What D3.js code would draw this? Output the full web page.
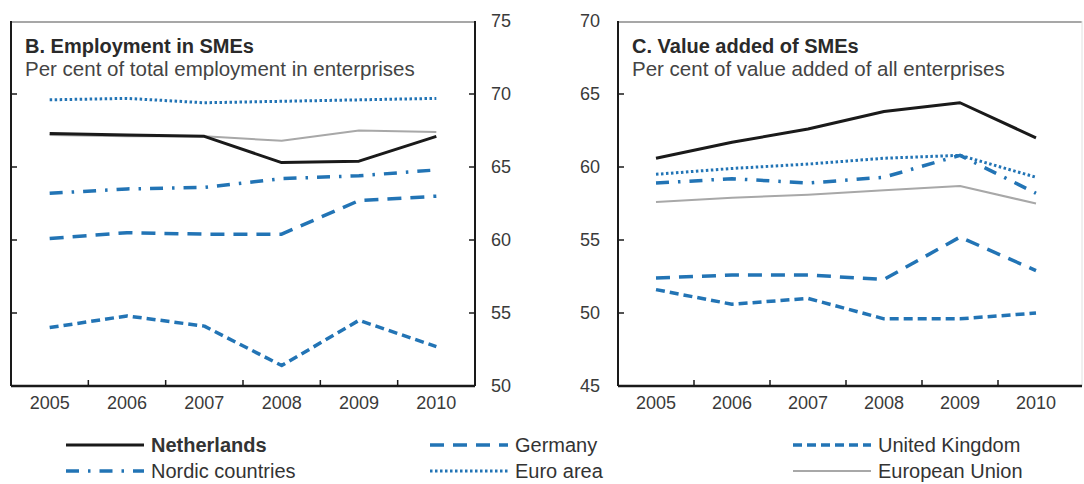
<!DOCTYPE html>
<html>
<head>
<meta charset="utf-8">
<script src="https://cdn.jsdelivr.net/npm/d3@7"></script>
<style>
  body { margin: 0; background: #fff; }
  svg text { font-family: "Liberation Sans", Arial, sans-serif; fill: #3a3a3a; }
</style>
</head>
<body>
<svg id="chart" width="1084" height="484"></svg>
<script>
const years = ["2005", "2006", "2007", "2008", "2009", "2010"];

// B. Employment in SMEs
const empNetherlands = [67.3, 67.2, 67.1, 65.3, 65.4, 67.1];
const empNordic = [63.2, 63.5, 63.6, 64.2, 64.4, 64.8];
const empGermany = [60.1, 60.5, 60.4, 60.4, 62.7, 63.0];
const empEuro = [69.6, 69.7, 69.4, 69.5, 69.6, 69.7];
const empUK = [54.0, 54.8, 54.1, 51.4, 54.5, 52.7];
const empEU = [67.2, 67.1, 67.1, 66.8, 67.5, 67.4];

// C. Value added of SMEs
const vaNetherlands = [60.6, 61.7, 62.6, 63.8, 64.4, 62.0];
const vaNordic = [58.9, 59.2, 58.9, 59.3, 60.8, 58.2];
const vaGermany = [52.4, 52.6, 52.6, 52.3, 55.2, 52.9];
const vaEuro = [59.5, 59.9, 60.2, 60.6, 60.8, 59.3];
const vaUK = [51.6, 50.6, 51.0, 49.6, 49.6, 50.0];
const vaEU = [57.6, 57.9, 58.1, 58.4, 58.7, 57.5];

const empTicks = [50, 55, 60, 65, 70, 75];
const vaTicks = [45, 50, 55, 60, 65, 70];

const blue = "#2274b5";
const styles = {
  "Netherlands": { color: "#1a1a1a", width: 3, dash: null, bold: true },
  "Germany": { color: blue, width: 3.5, dash: "14,9" },
  "United Kingdom": { color: blue, width: 3.5, dash: "9,5" },
  "Nordic countries": { color: blue, width: 3.5, dash: "13,9,2.5,9" },
  "Euro area": { color: blue, width: 3, dash: "2.5,2.5" },
  "European Union": { color: "#a8a8a8", width: 2, dash: null },
};

const svg = d3.select("#chart");

const drawPanel = (opts) => {
  const { x0, x1, frameRight, top, bottom, domain, ticks, labelSide, title, subtitle, series } = opts;

  const x = d3.scaleBand().domain(years).range([x0, x1]);
  const y = d3.scaleLinear().domain(domain).range([bottom, top]);
  const g = svg.append("g");

  // frame
  g.append("line").attr("x1", x0).attr("x2", frameRight).attr("y1", top + 1).attr("y2", top + 1)
    .attr("stroke", "#8a8a8a").attr("stroke-width", 1.5);
  g.append("line").attr("x1", x0).attr("x2", x0).attr("y1", top).attr("y2", bottom)
    .attr("stroke", "#1a1a1a").attr("stroke-width", 2);
  g.append("line").attr("x1", frameRight).attr("x2", frameRight).attr("y1", top).attr("y2", bottom)
    .attr("stroke", labelSide === "right" ? "#1a1a1a" : "#e0e0e0").attr("stroke-width", labelSide === "right" ? 2 : 1);

  // x axis
  const xAxis = g.append("g")
    .attr("transform", `translate(0, ${bottom})`)
    .call(d3.axisBottom(x).tickSize(0).tickPadding(10));
  xAxis.select(".domain").attr("stroke", "#1a1a1a").attr("stroke-width", 2.5)
    .attr("d", `M${x0},0H${frameRight}`);
  xAxis.selectAll("text").style("font-size", "18px");

  // tick marks between years
  g.selectAll(".xtick").data(years.slice(1)).enter().append("line")
    .attr("x1", (d) => x(d)).attr("x2", (d) => x(d))
    .attr("y1", bottom).attr("y2", bottom - 6)
    .attr("stroke", "#1a1a1a").attr("stroke-width", 1.5);

  // y labels
  const yAxis = labelSide === "right"
    ? d3.axisRight(y).tickValues(ticks).tickSize(0).tickPadding(16)
    : d3.axisLeft(y).tickValues(ticks).tickSize(0).tickPadding(18);
  const ya = g.append("g")
    .attr("transform", `translate(${labelSide === "right" ? frameRight : x0}, 0)`)
    .call(yAxis);
  ya.select(".domain").remove();
  ya.selectAll("text").style("font-size", "18px");

  // inner y tick marks
  const inner = ticks.slice(1, -1);
  g.selectAll(".ytl").data(inner).enter().append("line")
    .attr("x1", x0).attr("x2", x0 + 6).attr("y1", (d) => y(d)).attr("y2", (d) => y(d))
    .attr("stroke", "#1a1a1a").attr("stroke-width", 1.5);
  if (labelSide === "right") {
    g.selectAll(".ytr").data(inner).enter().append("line")
      .attr("x1", frameRight - 6).attr("x2", frameRight).attr("y1", (d) => y(d)).attr("y2", (d) => y(d))
      .attr("stroke", "#1a1a1a").attr("stroke-width", 1.5);
  }

  // titles
  g.append("text").attr("x", x0 + 14).attr("y", top + 32)
    .style("font-size", "20px").style("font-weight", "bold").style("fill", "#2a2a2a").text(title);
  g.append("text").attr("x", x0 + 14).attr("y", top + 55)
    .style("font-size", "20.5px").style("fill", "#444").text(subtitle);

  // lines
  const line = d3.line().x((d, i) => x(years[i]) + x.bandwidth() / 2).y((d) => y(d));
  series.forEach(([name, values]) => {
    const s = styles[name];
    g.append("path").datum(values).attr("d", line)
      .attr("fill", "none").attr("stroke", s.color).attr("stroke-width", s.width)
      .attr("stroke-dasharray", s.dash).attr("stroke-linejoin", "round");
  });
};

drawPanel({
  x0: 11, x1: 475, frameRight: 475, top: 21, bottom: 386,
  domain: [50, 75], ticks: empTicks, labelSide: "right",
  title: "B. Employment in SMEs",
  subtitle: "Per cent of total employment in enterprises",
  series: [
    ["European Union", empEU], ["Euro area", empEuro], ["United Kingdom", empUK],
    ["Germany", empGermany], ["Nordic countries", empNordic], ["Netherlands", empNetherlands],
  ],
});

drawPanel({
  x0: 618, x1: 1074, frameRight: 1082, top: 21, bottom: 386,
  domain: [45, 70], ticks: vaTicks, labelSide: "left",
  title: "C. Value added of SMEs",
  subtitle: "Per cent of value added of all enterprises",
  series: [
    ["European Union", vaEU], ["Euro area", vaEuro], ["United Kingdom", vaUK],
    ["Germany", vaGermany], ["Nordic countries", vaNordic], ["Netherlands", vaNetherlands],
  ],
});

// legend
const legendItems = ["Netherlands", "Nordic countries", "Germany", "Euro area", "United Kingdom", "European Union"];
const legendCols = [66, 430, 793];
const legendRows = [445, 471];
const legend = svg.append("g").selectAll("g").data(legendItems).enter().append("g")
  .attr("transform", (d, i) => `translate(${legendCols[Math.floor(i / 2)]}, ${legendRows[i % 2]})`);
legend.append("line").attr("x1", 0).attr("x2", 78).attr("y1", 0).attr("y2", 0)
  .attr("stroke", (d) => styles[d].color).attr("stroke-width", (d) => styles[d].width)
  .attr("stroke-dasharray", (d) => styles[d].dash);
legend.append("text").attr("x", 85).attr("y", 7)
  .style("font-size", "20px").style("font-weight", (d) => (styles[d].bold ? "bold" : "normal"))
  .style("fill", "#333").text((d) => d);
</script>
</body>
</html>
